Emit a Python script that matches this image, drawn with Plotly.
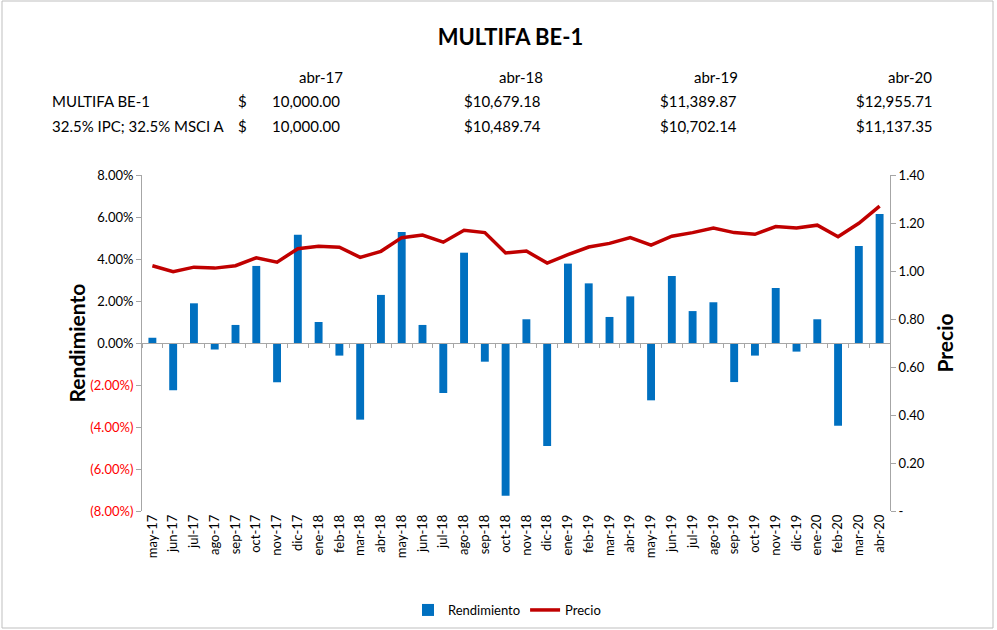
import plotly.graph_objects as go

months = ["may-17","jun-17","jul-17","ago-17","sep-17","oct-17","nov-17","dic-17",
          "ene-18","feb-18","mar-18","abr-18","may-18","jun-18","jul-18","ago-18",
          "sep-18","oct-18","nov-18","dic-18","ene-19","feb-19","mar-19","abr-19",
          "may-19","jun-19","jul-19","ago-19","sep-19","oct-19","nov-19","dic-19",
          "ene-20","feb-20","mar-20","abr-20"]
rendimiento = [0.25,-2.25,1.89,-0.31,0.86,3.67,-1.87,5.16,
               1.0,-0.6,-3.65,2.29,5.29,0.86,-2.38,4.3,
               -0.89,-7.27,1.13,-4.9,3.78,2.84,1.24,2.22,
               -2.73,3.19,1.52,1.94,-1.86,-0.6,2.62,-0.41,
               1.13,-3.94,4.62,6.14]
precio = [1.022,0.997,1.016,1.012,1.022,1.055,1.037,1.093,
          1.103,1.099,1.057,1.082,1.139,1.150,1.120,1.170,
          1.160,1.075,1.083,1.033,1.068,1.100,1.115,1.139,
          1.108,1.145,1.160,1.179,1.160,1.153,1.185,1.179,
          1.191,1.143,1.199,1.270]

table_dates = ["abr-17","abr-18","abr-19","abr-20"]
fund_name = "MULTIFA BE-1"
bench_name = "32.5% IPC; 32.5% MSCI A"
fund_values = ["10,000.00","$10,679.18","$11,389.87","$12,955.71"]
bench_values = ["10,000.00","$10,489.74","$10,702.14","$11,137.35"]

left_tickvals = [8,6,4,2,0,-2,-4,-6,-8]
right_tickvals = [1.4,1.2,1.0,0.8,0.6,0.4,0.2,0.0]

FONT = "Lato"
BLUE = "#0070C0"
RED = "#C00000"
AX = "#A6A6A6"

def lfmt(v):
    if v < 0:
        return '<span style="color:#FF0000">(%.2f%%)</span>' % abs(v)
    return "%.2f%%" % v

def rfmt(v):
    return "-" if v == 0 else "%.2f" % v

fig = go.Figure()
fig.add_trace(go.Bar(x=months, y=rendimiento, name="Rendimiento",
                     marker=dict(color=BLUE, line=dict(width=0)), width=0.38,
                     xaxis="x", yaxis="y"))
fig.add_trace(go.Scatter(x=months, y=precio, name="Precio", mode="lines",
                         line=dict(color=RED, width=3.5), xaxis="x", yaxis="y2"))
# helper trace for the axis line drawn at zero
fig.add_trace(go.Scatter(x=months, y=[0]*len(months), mode="lines",
                         line=dict(width=0), opacity=0, showlegend=False,
                         hoverinfo="skip", xaxis="x3", yaxis="y"))

fig.update_layout(
    width=997, height=630,
    margin=dict(l=142, r=107, t=175, b=119, autoexpand=False),
    paper_bgcolor="white", plot_bgcolor="white",
    font=dict(family=FONT, size=13, color="black"),
    bargap=0.6,
    showlegend=True,
    legend=dict(orientation="h", x=507/997, xref="container", xanchor="center",
                y=1-610/630, yref="container", yanchor="middle",
                font=dict(size=13), traceorder="normal"),
    title=dict(text="<b>MULTIFA BE-1</b>", x=0.512, xref="container", xanchor="center",
               y=1-37/630, yref="container", yanchor="middle",
               font=dict(size=22, family=FONT, color="black")),
    xaxis=dict(type="category", categoryorder="array", categoryarray=months,
               range=[-0.5, 35.5], showline=False, ticks="", tickangle=-90,
               showgrid=False, zeroline=False, tickfont=dict(size=13), automargin=False),
    xaxis3=dict(type="category", categoryorder="array", categoryarray=months,
                range=[-0.5, 35.5], overlaying="x", anchor="free", position=0.5,
                showticklabels=False, ticks="outside", tickson="boundaries",
                ticklen=4, tickcolor=AX, showline=True, linecolor=AX, linewidth=1,
                showgrid=False, zeroline=False, automargin=False),
    yaxis=dict(range=[-8, 8], tickvals=left_tickvals,
               ticktext=[lfmt(v) for v in left_tickvals],
               showline=True, linecolor=AX, ticks="outside", ticklen=5, tickcolor=AX,
               showgrid=False, zeroline=False, tickfont=dict(size=13), automargin=False),
    yaxis2=dict(range=[0, 1.4], tickvals=right_tickvals,
                ticktext=[rfmt(v) for v in right_tickvals],
                overlaying="y", side="right", anchor="x",
                showline=True, linecolor=AX, ticks="outside", ticklen=5, tickcolor=AX,
                showgrid=False, zeroline=False, tickfont=dict(size=13), automargin=False),
)

ann = []
ann.append(dict(text="<b>Rendimiento</b>", x=-0.107, y=0.5, xref="paper", yref="paper",
                textangle=-90, showarrow=False, font=dict(size=21, color="black")))
ann.append(dict(text="<b>Precio</b>", x=1.091, y=0.5, xref="paper", yref="paper",
                textangle=-90, showarrow=False, font=dict(size=21, color="black")))

def px_x(p):
    return (p - 142) / 748.0

def px_y(p):
    return (511 - p) / 336.0

col_right = [342, 543, 739, 935]
hdr_right = [345, 545, 740, 934]
rows_y = [77, 101, 126]
tf = dict(size=15, color="black")
for d, xr in zip(table_dates, hdr_right):
    ann.append(dict(text=d, x=px_x(xr), y=px_y(rows_y[0]), xref="paper", yref="paper",
                    xanchor="right", yanchor="middle", showarrow=False, font=tf))
for name, vals, yy in [(fund_name, fund_values, rows_y[1]), (bench_name, bench_values, rows_y[2])]:
    ann.append(dict(text=name, x=px_x(50), y=px_y(yy), xref="paper", yref="paper",
                    xanchor="left", yanchor="middle", showarrow=False, font=tf))
    ann.append(dict(text="$", x=px_x(236), y=px_y(yy), xref="paper", yref="paper",
                    xanchor="left", yanchor="middle", showarrow=False, font=tf))
    for v, xr in zip(vals, col_right):
        ann.append(dict(text=v, x=px_x(xr), y=px_y(yy), xref="paper", yref="paper",
                        xanchor="right", yanchor="middle", showarrow=False, font=tf))
fig.update_layout(annotations=ann)

fig.add_shape(type="rect", xref="paper", yref="paper",
              x0=px_x(2), x1=px_x(993), y0=px_y(628), y1=px_y(1),
              line=dict(color="#BFBFBF", width=1), fillcolor="rgba(0,0,0,0)", layer="below")

fig.write_html("out.html", config={"displayModeBar": False},
               post_script="document.body.style.margin='0px';document.body.style.overflow='hidden';")
